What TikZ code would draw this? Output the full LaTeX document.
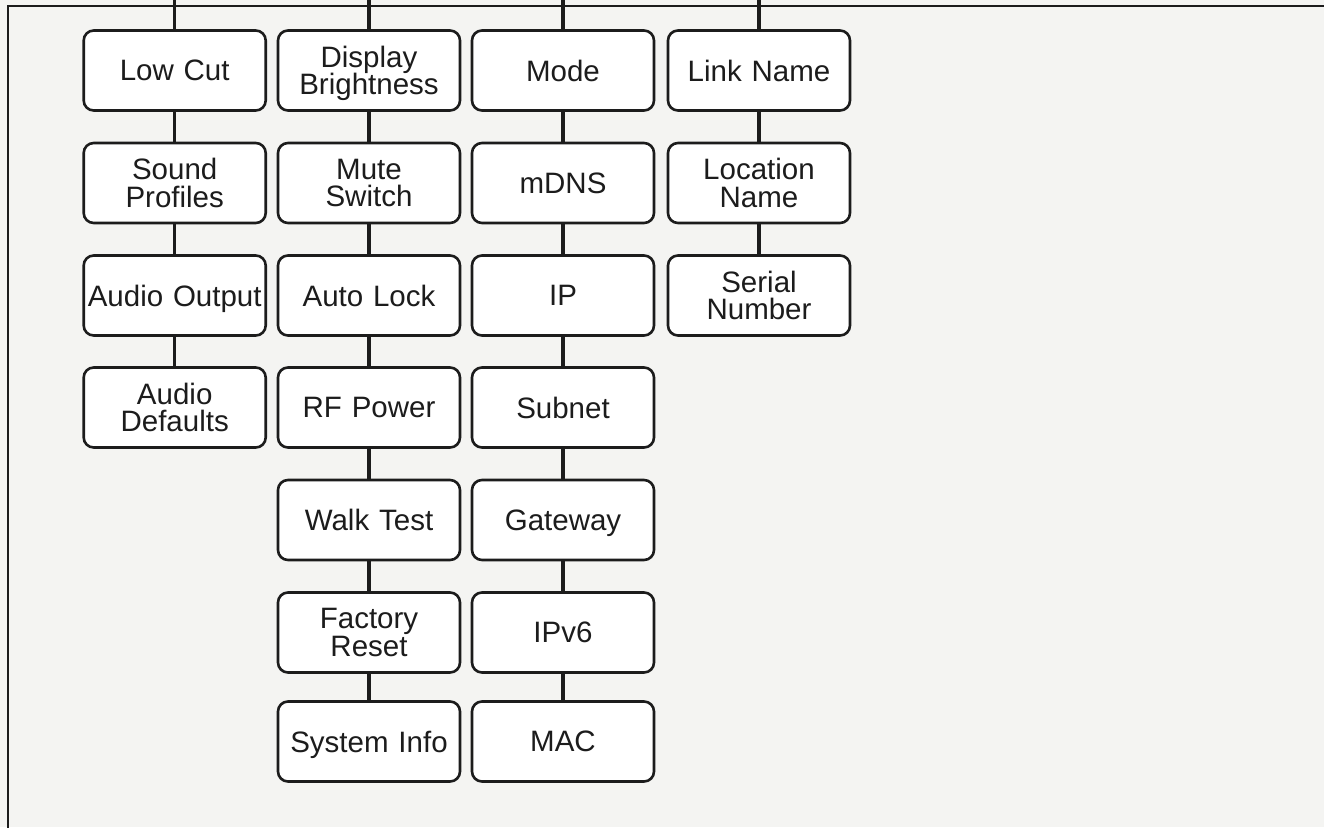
\documentclass[tikz,border=0pt]{standalone}
\usepackage{fontspec}
\setmainfont{Liberation Sans}
\definecolor{bg}{HTML}{F4F4F2}
\definecolor{ink}{HTML}{1C1C1C}
% a line of text whose descenders do not count for centring
\newcommand{\nd}[1]{\raisebox{0pt}[\height][0pt]{#1}}
\newcommand{\twolines}[2]{\nd{#1}\\\nd{#2}}
\begin{document}
\begin{tikzpicture}[x=1pt,y=-1pt,
  item/.style={draw=ink, line width=2.6pt, fill=white, rounded corners=10pt,
    minimum width=182pt, minimum height=80pt, text width=180pt, align=center,
    inner sep=0pt, font=\fontsize{29.5}{27.5}\selectfont, text=ink},
  link/.style={draw=ink, line width=3.3pt},
  frameline/.style={draw=ink, line width=1.8pt}]
\useasboundingbox (0,0) rectangle (1324,827);
\fill[bg] (0,0) rectangle (1324,827);
\coordinate (fa) at (8,840);
\coordinate (fb) at (8,6);
\coordinate (fc) at (1340,6);
\draw[frameline] (fa) -- (fb) -- (fc);

% column A
\node[item] (a1) at (174.7,70.5) {\nd{Low Cut}};
\node[item] (a2) at (174.7,183) {\twolines{Sound}{Profiles}};
\node[item] (a3) at (174.7,295.5) {\nd{Audio Output}};
\node[item] (a4) at (174.7,407.5) {\twolines{Audio}{Defaults}};
% column B
\node[item] (b1) at (369,70.5) {\twolines{Display}{Brightness}};
\node[item] (b2) at (369,183) {\twolines{Mute}{Switch}};
\node[item] (b3) at (369,295.5) {\nd{Auto Lock}};
\node[item] (b4) at (369,407.5) {\nd{RF Power}};
\node[item] (b5) at (369,520) {\nd{Walk Test}};
\node[item] (b6) at (369,632.5) {\twolines{Factory}{Reset}};
\node[item] (b7) at (369,741.5) {\nd{System Info}};
% column C
\node[item] (c1) at (563,70.5) {\nd{Mode}};
\node[item] (c2) at (563,183) {\nd{mDNS}};
\node[item] (c3) at (563,295.5) {\nd{IP}};
\node[item] (c4) at (563,407.5) {\nd{Subnet}};
\node[item] (c5) at (563,520) {\nd{Gateway}};
\node[item] (c6) at (563,632.5) {\nd{IPv6}};
\node[item] (c7) at (563,741.5) {\nd{MAC}};
% column D
\node[item] (d1) at (759,70.5) {\nd{Link Name}};
\node[item] (d2) at (759,183) {\twolines{Location}{Name}};
\node[item] (d3) at (759,295.5) {\twolines{Serial}{Number}};

% stubs to top edge
\coordinate (ta) at (174.7,-2);
\coordinate (tb) at (369,-2);
\coordinate (tc) at (563,-2);
\coordinate (td) at (759,-2);
\draw[link] (ta) -- (a1.north);
\draw[link] (tb) -- (b1.north);
\draw[link] (tc) -- (c1.north);
\draw[link] (td) -- (d1.north);

% connectors
\draw[link] (a1) -- (a2);
\draw[link] (a2) -- (a3);
\draw[link] (a3) -- (a4);
\draw[link] (b1) -- (b2);
\draw[link] (b2) -- (b3);
\draw[link] (b3) -- (b4);
\draw[link] (b4) -- (b5);
\draw[link] (b5) -- (b6);
\draw[link] (b6) -- (b7);
\draw[link] (c1) -- (c2);
\draw[link] (c2) -- (c3);
\draw[link] (c3) -- (c4);
\draw[link] (c4) -- (c5);
\draw[link] (c5) -- (c6);
\draw[link] (c6) -- (c7);
\draw[link] (d1) -- (d2);
\draw[link] (d2) -- (d3);
\end{tikzpicture}
\end{document}
